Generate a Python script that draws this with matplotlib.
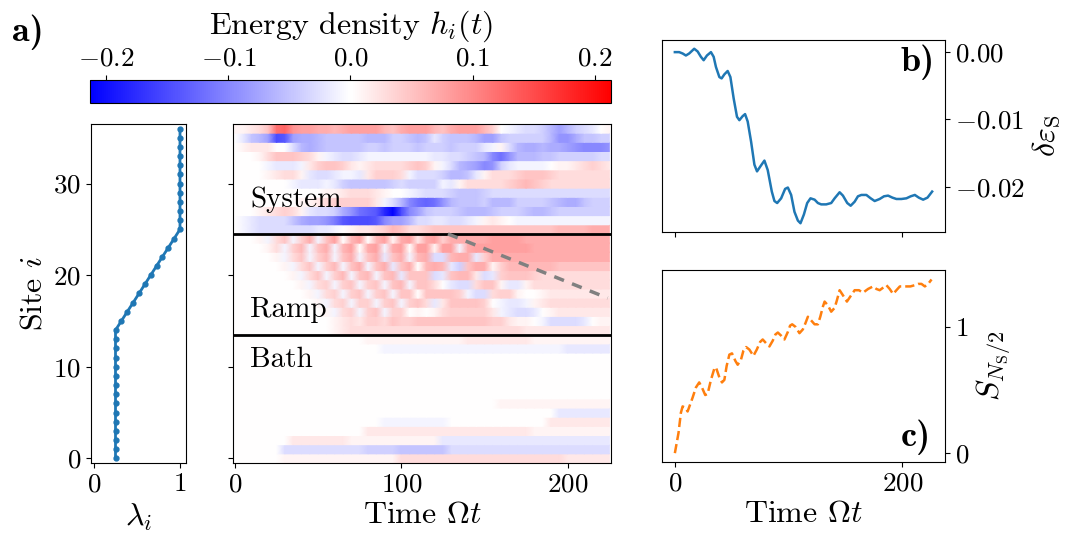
import numpy as np
import matplotlib
matplotlib.use("Agg")
import matplotlib.pyplot as plt

plt.rcParams["font.family"] = "serif"
plt.rcParams["font.serif"] = ["cmr10"]
plt.rcParams["mathtext.fontset"] = "cm"
plt.rcParams["axes.formatter.use_mathtext"] = True

# --- ramp profile lambda_i ---
sites = np.arange(37)
lam = [0.25] * 15 + [0.318, 0.386, 0.455, 0.523, 0.591, 0.659, 0.727, 0.795, 0.864, 0.932] + [1.0] * 12

# --- energy density h_i(t), in units of 0.01, rows from site 36 (top) to site 0 ---
t_cols = np.arange(0, 226, 5)
h_rows = [
    [1,1,2,3,5,12,13,9,8,8, 7,7,6,7,8,8,8,8,6,5, 7,8,8,8,6,5,7,8,8,8, 6,4,0,-1,-2,-3,-3,-4,-6,-8, -6,-4,-3,-2,0,1],
    [0,-2,-5,-6,-8,-15,-14,-8,-7,-7, -6,-5,-5,-5,-5,-5,-6,-6,-6,-4, -4,-5,-6,-5,-2,-4,-5,-5,-5,-6, -8,-8,-5,-4,-4,-4,-4,-4,-6,-9, -9,-7,-5,-5,-4,-4],
    [0,1,2,2,2,0,0,-3,-6,-7, -6,-5,-5,-5,-5,-5,-4,-4,-5,-4, -4,-4,-5,-4,-4,-4,-5,-4,-4,-4, -2,-1,1,-3,-6,-7,-7,-6,-7,-7, -8,-9,-10,-10,-10,-9],
    [0,0,0,1,3,5,5,5,4,3, 1,-1,-2,-3,-3,-2,-1,-1,-1,-1, -1,-1,-1,-1,-2,-2,-3,-3,-4,-5, -6,-10,-12,-9,-6,-6,-6,-5,-5,-4, -4,-4,-4,-4,-3,-3],
    [0,0,0,0,-1,-2,-2,-2,-1,2, 4,5,5,4,2,1,2,3,3,3, 3,4,5,4,1,-1,-3,-6,-7,-8, -10,-9,-4,-2,-1,-1,-1,-1,0,1, 1,2,3,4,3,2],
    [0,0,0,0,1,2,3,3,1,-2, -3,-3,-2,-1,-1,-2,2,4,4,4, 3,-1,-3,-3,-3,-4,-6,-6,-5,-2, 1,3,3,3,4,5,5,5,4,3, 3,3,3,3,3,3],
    [0,0,0,0,0,0,0,-1,-2,-2, -2,-1,-2,-4,-5,-5,-5,-5,-5,-4, -3,-4,-4,-4,-4,-1,-2,1,3,3, 3,3,3,4,5,6,5,4,3,3, 3,3,3,3,3,3],
    [0,0,0,0,0,0,0,0,0,0, 0,1,1,2,3,3,3,2,1,0, 0,-1,-2,-3,-3,-3,-4,-5,-5,-5, -4,-3,-3,-3,-3,-3,-3,-3,-3,-3, -3,-3,-3,-3,-3,-3],
    [0,0,0,0,0,0,0,0,1,1, 2,3,4,4,4,4,4,2,-1,-3, -6,-10,-12,-13,-12,-9,-6,-5,-5,-5, -4,-6,-6,-6,-4,-4,-4,-4,-5,-6, -7,-7,-5,-4,-4,-4],
    [0,0,0,1,2,3,4,3,1,-2, -3,-3,-4,-7,-9,-12,-13,-14,-18,-21, -15,-10,-8,-5,-4,-4,-4,-5,-6,-6, -6,-5,-4,-4,-4,-5,-6,-6,-5,-4, -4,-4,-4,-4,-4,-4],
    [0,-1,-2,-3,-3,-3,-3,-5,-7,-8, -8,-9,-11,-14,-15,-15,-15,-14,-10,-8, -8,-6,-3,-3,-2,-2,-3,-3,-2,-1, 1,2,1,0,-1,-1,-1,-1,-1,-1, -1,-1,-1,-1,-1,-1],
    [0,-1,-2,-3,-3,-3,-3,-3,-3,-3, -2,-2,-1,0,1,2,2,3,4,6, 5,3,3,4,5,5,5,5,5,5, 5,5,5,5,5,5,5,5,5,6, 6,6,6,7,7,7],
    # ramp
    [0,0,0,1, -1,3,5,-1,4,7,-1,5,8,0,6,8,0,6,8,1,7,8,2,7,8,4,7, 7,7,7,7,8,8,8,8,7,7,7,7,7,7,7,7,7,7,7],
    [0,0,0,0,1, 3,-1,4,6,-1,5,7,-1,6,8,0,7,8,-1,7,8,0,8,8,1,8,8,-1,7,8, 8,8,8,8,8,8,7,7,7,7,7,7,7,7,7,7],
    [0,0,0,0,0, 1,-1,3,5,-1,4,6,-1,5,7,-1,5,7,-2,5,7,-1,6,7,-3,-3,6,7,7,-2,4,7, 7,7,7,7,7,7,7,7,7,7,7,7,7,7],
    [0,0,0,0,0,0, 1,-1,3,5,-1,4,6,-1,5,7,-1,5,7,-2,5,7,0,6,7,6,-2,-4,5,7,7,1,4,6,6,6, 6,6,6,5,5,5,5,5,5,5],
    [0,0,0,0,0,0,0, 1,-1,3,5,-1,4,6,-1,5,6,-1,5,6,-2,5,5,5,-3,-2,5,6,6,2,-3,-2,4,5,5,5,4,3, 3,3,3,3,3,3,3,3],
    [0,0,0,0,0,0,0,0, 1,-1,3,4,-1,4,5,-1,4,5,-1,5,6,-1,5,5,3,0,-2,-3,-3,3,5,5,1,-2,-2,1,3,3,3,3,3,3,3,3,3,3],
    [0,0,0,0,0,0,0,0, 0,1,-1,3,4,-1,4,5,-1,4,5,-1,5,5,0,5,5,5,5,4,-1,-3,-3,3,4,4,1,0,0,1,2,2,2,2,2,2,2,2],
    [0]*9 + [0,1,-1,3,4,-1,4,4,-1,4,5,-1,4,5,3,-2,2,5,5,5,5,4,0,-1,-2,-2,-1,1,2] + [3]*8,
    [0,0,0,0,0,0,0,0,0,0, 0,1,-1,3,4,-1,4,5,-1,4,4,0,1,0,1,3,4,4,4,4,4,2,-1,-2,-3,-3,-2,0,1,2,2,2,2,2,2,2],
    [0,0,0,0,0,0,0,0,0,0,0, 0,1,2,3,2,4,4,3,5,4,4,5,5,5,5,5,5,5,5,5,4,4,2,1,1,0,-1,-3,-3,-3,-3,-2,0,1,1],
    [0]*12 + [1, 2] + [3]*21 + [2]*11,
    # bath
    [0]*16 + [1]*12 + [2]*8 + [1]*10,
    [0]*18 + [-1]*22 + [-2]*6,
    [0]*46,
    [0]*46,
    [0]*46,
    [0]*46,
    [0]*46,
    [0]*32 + [1]*14,
    [0]*39 + [-2]*7,
    [0]*18 + [-1]*8 + [0]*12 + [2]*8,
    [0]*16 + [2]*20 + [1]*10,
    [0]*7 + [2]*7 + [1]*11 + [-2]*21,
    [0]*6 + [-3]*10 + [-4]*4 + [-5]*6 + [-3]*20,
    [0]*6 + [1]*14 + [3]*20 + [2]*6,
]
h = np.array(h_rows[::-1], dtype=float) / 100.0

# --- panel b: change of system energy density ---
b_t = [0, 3.8, 6.8, 9.7, 12.6, 17.0, 20.0, 22.9, 25.3, 28.2, 31.7, 34.1, 36.1, 39.1, 41.1, 43.5,
       46.4, 48.8, 51.7, 54.6, 56.7, 59.6, 61.7, 64.0, 67.0, 69.9, 72.2, 75.8, 78.7, 81.6, 85.2,
       87.5, 89.9, 93.4, 96.9, 99.3, 102.2, 105.1, 108.1, 110.4, 113.4, 116.3, 119.2, 122.8, 125.7,
       128.6, 133.0, 137.4, 140.4, 144.8, 147.7, 151.5, 154.5, 158.0, 160.9, 163.9, 168.3, 172.1,
       175.6, 180.0, 183.8, 187.4, 191.2, 194.7, 199.1, 203.5, 207.3, 210.9, 214.4, 218.2, 222.0, 226.1]
b_val = [0.0, 0.0, -0.0002, -0.0005, -0.0002, 0.0005, 0.0001, -0.0007, -0.0012, -0.0005, 0.0,
         -0.0007, -0.0022, -0.0037, -0.0039, -0.0033, -0.0028, -0.0037, -0.0069, -0.0096, -0.0101,
         -0.0095, -0.0092, -0.0103, -0.0133, -0.0167, -0.0177, -0.0168, -0.0161, -0.0175, -0.0207,
         -0.0221, -0.0224, -0.0217, -0.0203, -0.0201, -0.0212, -0.0237, -0.0250, -0.0254, -0.0241,
         -0.0224, -0.0217, -0.0219, -0.0224, -0.0226, -0.0226, -0.0224, -0.0217, -0.0208, -0.0213,
         -0.0224, -0.0228, -0.0222, -0.0214, -0.0212, -0.0212, -0.0217, -0.0221, -0.0218, -0.0214,
         -0.0213, -0.0216, -0.0218, -0.0218, -0.0217, -0.0214, -0.0212, -0.0216, -0.0219, -0.0216,
         -0.0207]

# --- panel c: half-chain entanglement entropy ---
c_t = [0, 3.2, 5.3, 6.8, 9.1, 11.2, 13.2, 15.6, 18.5, 21.4, 23.8, 26.7, 28.8, 31.7, 34.7, 36.1,
       39.1, 41.4, 43.5, 45.5, 47.9, 50.2, 53.2, 55.2, 58.1, 60.2, 62.6, 65.5, 69.0, 72.0, 74.9,
       77.2, 80.2, 83.1, 86.0, 88.4, 90.5, 93.4, 96.3, 99.3, 101.3, 103.1, 106.0, 109.5, 112.5,
       114.8, 116.9, 118.9, 122.8, 125.7, 127.8, 130.1, 131.6, 134.5, 137.4, 140.4, 142.4, 144.8,
       147.7, 151.2, 154.2, 158.0, 161.8, 165.3, 169.8, 174.2, 177.1, 180.0, 183.0, 185.9, 188.8,
       191.8, 194.7, 197.7, 200.6, 203.5, 207.0, 210.9, 213.8, 216.7, 219.7, 222.6, 225.6]
c_val = [0.0, 0.16, 0.32, 0.37, 0.36, 0.33, 0.38, 0.44, 0.52, 0.56, 0.52, 0.46, 0.47, 0.58, 0.67,
         0.68, 0.60, 0.56, 0.58, 0.69, 0.78, 0.79, 0.73, 0.70, 0.74, 0.81, 0.84, 0.82, 0.77, 0.82,
         0.88, 0.90, 0.87, 0.845, 0.89, 0.94, 0.955, 0.93, 0.90, 0.96, 1.01, 1.02, 1.00, 0.95, 0.98,
         1.03, 1.08, 1.06, 1.02, 1.02, 1.08, 1.16, 1.20, 1.17, 1.12, 1.15, 1.21, 1.29, 1.25, 1.20,
         1.24, 1.29, 1.29, 1.27, 1.30, 1.32, 1.30, 1.29, 1.31, 1.33, 1.30, 1.26, 1.29, 1.32, 1.32,
         1.32, 1.32, 1.33, 1.34, 1.34, 1.32, 1.34, 1.375]

TICK = 19.5
LAB = 23
W, H = 1078, 548
fig = plt.figure(figsize=(W / 100, H / 100), dpi=100)


def box(l, t, r, b):
    return [l / W, 1 - b / H, (r - l) / W, (b - t) / H]


ax_l = fig.add_axes(box(91, 124, 186, 463))
ax_h = fig.add_axes(box(233, 124, 611, 463), sharey=ax_l)
cax = fig.add_axes(box(90, 80, 611, 103))
ax_b = fig.add_axes(box(662, 40, 945, 232))
ax_c = fig.add_axes(box(662, 270, 945, 462), sharex=ax_b)

# lambda profile
ax_l.plot(lam, sites, "-o", color="C0", lw=2, ms=3.5)
ax_l.set_xlim(-0.035, 1.07)
ax_l.set_ylim(-0.5, 36.5)
ax_l.set_xticks([0, 1])
ax_l.set_yticks([0, 10, 20, 30])
ax_l.set_ylabel("Site $i$", fontsize=LAB)
ax_l.set_xlabel(r"$\lambda_i$", fontsize=LAB)

# heatmap
vmax = 0.2135
X, Y = np.meshgrid(t_cols, np.ravel(np.column_stack([sites - 0.5, sites + 0.5])))
C = np.repeat(h, 2, axis=0)
im = ax_h.pcolormesh(X, Y, C, shading="gouraud", cmap="bwr", vmin=-vmax, vmax=vmax)
ax_h.set_xlim(-1.2, 226)
ax_h.axhline(24.5, color="k", lw=2)
ax_h.axhline(13.5, color="k", lw=2)
ax_h.plot([128, 224], [24.5, 17.5], "--", color="gray", lw=2.5, dashes=(3, 2.5))
ax_h.tick_params(labelleft=False)
ax_h.set_xticks([0, 100, 200])
ax_h.set_xlabel(r"Time $\Omega t$", fontsize=LAB)
ax_h.text(9, 28.2, "System", fontsize=21, va="center")
ax_h.text(9, 16.2, "Ramp", fontsize=21, va="center")
ax_h.text(9, 10.8, "Bath", fontsize=21, va="center")

cb = fig.colorbar(im, cax=cax, orientation="horizontal")
cb.set_ticks([-0.2, -0.1, 0.0, 0.1, 0.2])
cax.xaxis.set_ticks_position("top")
cax.xaxis.set_label_position("top")
cax.tick_params(labelsize=TICK, pad=3)
cb.set_label(r"Energy density $h_i(t)$", fontsize=LAB, labelpad=10)

# panel b
ax_b.plot(b_t, b_val, color="C0", lw=1.8)
ax_b.set_ylim(-0.0267, 0.0018)
ax_b.set_yticks([0.0, -0.01, -0.02])
ax_b.yaxis.tick_right()
ax_b.yaxis.set_label_position("right")
ax_b.set_ylabel(r"$\delta\varepsilon_{\mathrm{S}}$", fontsize=LAB)
ax_b.tick_params(labelbottom=False)
ax_b.text(0.965, 0.975, "b)", family="cmb10", transform=ax_b.transAxes, fontsize=26, ha="right", va="top")

# panel c
ax_c.plot(c_t, c_val, "--", color="C1", lw=1.8)
ax_c.set_ylim(-0.07, 1.45)
ax_c.set_yticks([0, 1])
ax_c.set_xticks([0, 200])
ax_c.yaxis.tick_right()
ax_c.yaxis.set_label_position("right")
ax_c.set_ylabel(r"$S_{N_{\mathrm{S}}/2}$", fontsize=LAB)
ax_c.set_xlabel(r"Time $\Omega t$", fontsize=LAB)
ax_c.text(0.95, 0.036, "c)", family="cmb10", transform=ax_c.transAxes, fontsize=26, ha="right", va="bottom")

for a in (ax_l, ax_h, ax_b, ax_c):
    a.tick_params(labelsize=TICK)

fig.text(12 / W, 1 - 14 / H, "a)", family="cmb10", fontsize=26, va="top")

fig.savefig("out.png", dpi=100)
